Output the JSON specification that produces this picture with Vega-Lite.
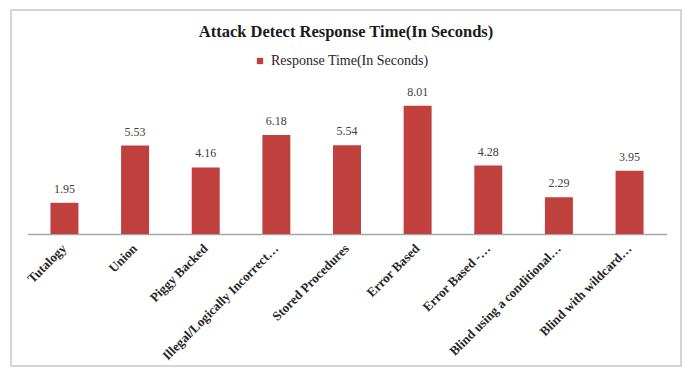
{
  "$schema": "https://vega.github.io/schema/vega-lite/v6.json",
  "width": 670,
  "height": 356,
  "autosize": {"type": "none"},
  "padding": {"left": 11, "top": 10, "right": 3, "bottom": 6},
  "background": "white",
  "config": {
    "view": {"stroke": "#c8c8c8", "strokeWidth": 1.5},
    "font": "Liberation Serif"
  },
  "title": {
    "text": "Attack Detect Response Time(In Seconds)",
    "font": "Liberation Serif",
    "fontSize": 16.5,
    "fontWeight": "bold",
    "color": "#1a1a1a",
    "anchor": "middle",
    "offset": -30
  },
  "data": {
    "values": [
      {"attack": "Tutalogy", "time": 1.95},
      {"attack": "Union", "time": 5.53},
      {"attack": "Piggy Backed", "time": 4.16},
      {"attack": "Illegal/Logically Incorrect…", "time": 6.18},
      {"attack": "Stored Procedures", "time": 5.54},
      {"attack": "Error Based", "time": 8.01},
      {"attack": "Error Based -…", "time": 4.28},
      {"attack": "Blind using a conditional…", "time": 2.29},
      {"attack": "Blind with wildcard…", "time": 3.95}
    ]
  },
  "encoding": {
    "x": {
      "field": "attack",
      "type": "nominal",
      "sort": null,
      "scale": {"range": [16.5, 655.5], "paddingInner": 0.604, "paddingOuter": 0.325},
      "axis": {
        "title": null,
        "offset": -132,
        "ticks": false,
        "domainColor": "#a6a6a6",
        "domainWidth": 1.5,
        "labelAngle": -45,
        "labelAlign": "right",
        "labelBaseline": "middle",
        "labelPadding": 12,
        "labelFont": "Liberation Serif",
        "labelFontWeight": "bold",
        "labelFontSize": 13,
        "labelColor": "#262626",
        "labelLimit": 200
      }
    },
    "y": {
      "field": "time",
      "type": "quantitative",
      "scale": {"domain": [-8.25, 14], "nice": false, "zero": false},
      "axis": null
    }
  },
  "layer": [
    {
      "mark": {"type": "bar"},
      "encoding": {
        "y2": {"datum": 0},
        "color": {
          "datum": "Response Time(In Seconds)",
          "scale": {"range": ["#C0403D"]},
          "legend": {
            "title": null,
            "orient": "none",
            "legendX": 242,
            "legendY": 44,
            "symbolType": "square",
            "symbolSize": 40,
            "labelFont": "Liberation Serif",
            "labelFontSize": 14,
            "labelColor": "#262626",
            "labelOffset": 4
          }
        }
      }
    },
    {
      "mark": {
        "type": "text",
        "baseline": "bottom",
        "dy": -7,
        "font": "Liberation Serif",
        "fontSize": 12,
        "color": "#404040"
      },
      "encoding": {
        "text": {"field": "time", "type": "quantitative", "format": ".2f"}
      }
    }
  ]
}
